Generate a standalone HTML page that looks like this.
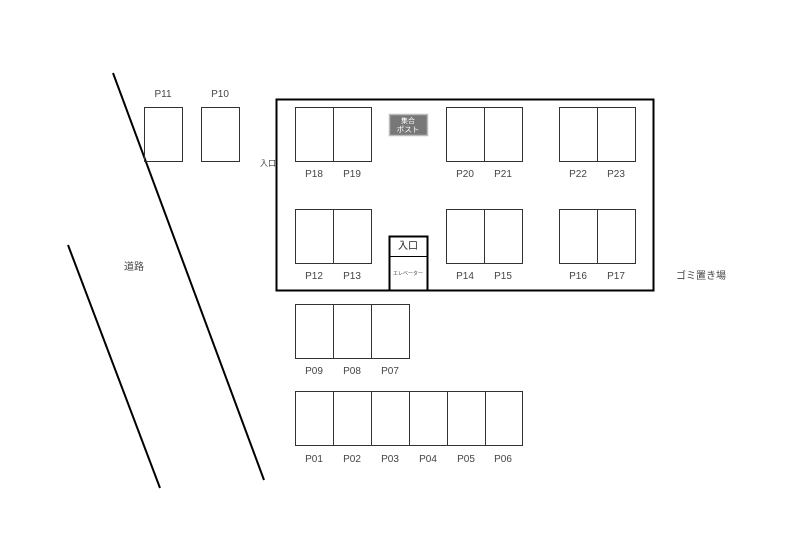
<!DOCTYPE html>
<html><head><meta charset="utf-8"><style>
html,body{margin:0;padding:0;background:#fff;}
svg text{font-family:"Liberation Sans","Noto Sans CJK JP",sans-serif;fill:#444;}
</style></head><body>
<svg width="800" height="541" xmlns="http://www.w3.org/2000/svg">
<g stroke="#000" stroke-width="2">
<line x1="113" y1="73" x2="264" y2="480"/>
<line x1="68" y1="245" x2="160" y2="488"/>
</g>
<rect x="276.5" y="99.5" width="377" height="191" fill="none" stroke="#000" stroke-width="2"/>
<g fill="none" stroke="#333" stroke-width="1">
<rect x="144.5" y="107.5" width="38" height="54"/>
<rect x="201.5" y="107.5" width="38" height="54"/>
<rect x="295.5" y="107.5" width="38" height="54"/><rect x="333.5" y="107.5" width="38" height="54"/>
<rect x="446.5" y="107.5" width="38" height="54"/><rect x="484.5" y="107.5" width="38" height="54"/>
<rect x="559.5" y="107.5" width="38" height="54"/><rect x="597.5" y="107.5" width="38" height="54"/>
<rect x="295.5" y="209.5" width="38" height="54"/><rect x="333.5" y="209.5" width="38" height="54"/>
<rect x="446.5" y="209.5" width="38" height="54"/><rect x="484.5" y="209.5" width="38" height="54"/>
<rect x="559.5" y="209.5" width="38" height="54"/><rect x="597.5" y="209.5" width="38" height="54"/>
<rect x="295.5" y="304.5" width="38" height="54"/><rect x="333.5" y="304.5" width="38" height="54"/><rect x="371.5" y="304.5" width="38" height="54"/>
<rect x="295.5" y="391.5" width="38" height="54"/><rect x="333.5" y="391.5" width="38" height="54"/><rect x="371.5" y="391.5" width="38" height="54"/>
<rect x="409.5" y="391.5" width="38" height="54"/><rect x="447.5" y="391.5" width="38" height="54"/><rect x="485.5" y="391.5" width="37" height="54"/>
</g>
<rect x="389.5" y="236.5" width="38" height="54" fill="none" stroke="#000" stroke-width="2"/>
<line x1="389" y1="256.5" x2="428" y2="256.5" stroke="#000" stroke-width="1"/>
<rect x="389.5" y="114.5" width="38" height="21" fill="#777" stroke="#bbb" stroke-width="1.5"/>
<text x="408" y="123" font-size="7" text-anchor="middle" style="fill:#fff">集合</text>
<text x="408" y="132" font-size="7.5" text-anchor="middle" style="fill:#fff">ポスト</text>
<text x="408" y="249" font-size="10" text-anchor="middle" style="fill:#222">入口</text>
<text x="408" y="275" font-size="5" text-anchor="middle">エレベーター</text>
<text x="268" y="166" font-size="8" text-anchor="middle">入口</text>
<g font-size="10" text-anchor="middle">
<text x="163" y="97">P11</text><text x="220" y="97">P10</text>
<text x="314" y="177">P18</text><text x="352" y="177">P19</text><text x="465" y="177">P20</text><text x="503" y="177">P21</text><text x="578" y="177">P22</text><text x="616" y="177">P23</text>
<text x="314" y="279">P12</text><text x="352" y="279">P13</text><text x="465" y="279">P14</text><text x="503" y="279">P15</text><text x="578" y="279">P16</text><text x="616" y="279">P17</text>
<text x="314" y="374">P09</text><text x="352" y="374">P08</text><text x="390" y="374">P07</text>
<text x="314" y="462">P01</text><text x="352" y="462">P02</text><text x="390" y="462">P03</text><text x="428" y="462">P04</text><text x="466" y="462">P05</text><text x="503" y="462">P06</text>
<text x="134" y="270">道路</text>
<text x="701" y="279">ゴミ置き場</text>
</g>
</svg>
</body></html>
